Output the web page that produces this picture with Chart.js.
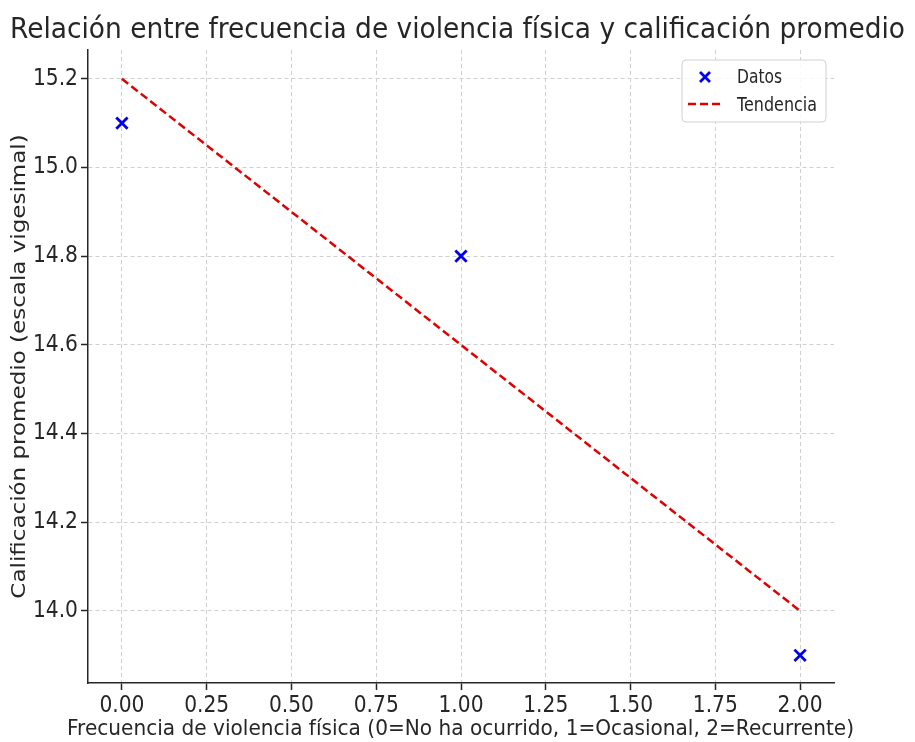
<!DOCTYPE html>
<html>
<head>
<meta charset="utf-8">
<script src="https://cdn.jsdelivr.net/npm/chart.js@4"></script>
<style>
  html, body { margin: 0; padding: 0; background: #fff; }
  #wrap { width: 915px; height: 742px; }
</style>
</head>
<body>
<div id="wrap"><canvas id="chart" width="915" height="742"></canvas></div>
<script>
// datos
const freqX = [0, 1, 2];
const notas = [15.1, 14.8, 13.9];
const trendX = [0, 2];
const trendY = [15.2, 14.0];
const xTicks = [0, 0.25, 0.5, 0.75, 1.0, 1.25, 1.5, 1.75, 2.0];
const yTicks = [14.0, 14.2, 14.4, 14.6, 14.8, 15.0, 15.2];

const titulo = "Relación entre frecuencia de violencia física y calificación promedio";
const tituloX = "Frecuencia de violencia física (0=No ha ocurrido, 1=Ocasional, 2=Recurrente)";
const tituloY = "Calificación promedio (escala vigesimal)";
const textColor = "#262626";
const gridColor = "#cfcfcf";

// textos (titulo y ejes)
const textos = {
  id: "textos",
  afterDraw(chart) {
    const ctx = chart.ctx;
    const area = chart.chartArea;
    ctx.save();
    ctx.fillStyle = textColor;
    ctx.textAlign = "center";
    ctx.textBaseline = "alphabetic";
    ctx.font = '28px "DejaVu Sans"';
    ctx.fillText(titulo, 457.5, 38, 895);
    ctx.font = '20.5px "DejaVu Sans"';
    ctx.fillText(tituloX, (area.left + area.right) / 2 - 0.5, 735, 787);

    ctx.translate(20, (area.top + area.bottom) / 2);
    ctx.rotate(-Math.PI / 2);
    ctx.scale(1, 0.88);
    ctx.textBaseline = "middle";
    ctx.font = '23px "DejaVu Sans"';
    ctx.fillText(tituloY, 0, 0);
    ctx.restore();
  },
};

// leyenda con recuadro, como en matplotlib
const boxLegend = {
  id: "boxLegend",
  afterDraw(chart) {
    const ctx = chart.ctx;
    const x = 682, y = 60, w = 144, h = 62;
    ctx.save();
    ctx.fillStyle = "rgba(255,255,255,0.85)";
    ctx.strokeStyle = "#d0d0d0";
    ctx.lineWidth = 1;
    ctx.beginPath();
    ctx.roundRect(x, y, w, h, 4);
    ctx.fill();
    ctx.stroke();

    // marcador x
    ctx.strokeStyle = "#0000ee";
    ctx.lineWidth = 2.8;
    const cx = 705, cy = 77, r = 5;
    ctx.beginPath();
    ctx.moveTo(cx - r, cy - r); ctx.lineTo(cx + r, cy + r);
    ctx.moveTo(cx - r, cy + r); ctx.lineTo(cx + r, cy - r);
    ctx.stroke();

    // linea discontinua
    ctx.strokeStyle = "#e00000";
    ctx.lineWidth = 2.5;
    ctx.setLineDash([8, 4]);
    ctx.beginPath();
    ctx.moveTo(688, 104); ctx.lineTo(722, 104);
    ctx.stroke();
    ctx.setLineDash([]);

    ctx.fillStyle = textColor;
    ctx.font = '19px "DejaVu Sans"';
    ctx.textBaseline = "alphabetic";
    ctx.fillText("Datos", 737, 83, 45);
    ctx.fillText("Tendencia", 737, 111, 80);
    ctx.restore();
  },
};

new Chart(document.getElementById("chart"), {
  type: "scatter",
  data: {
    datasets: [
      {
        label: "Datos",
        data: freqX.map((x, i) => ({ x: x, y: notas[i] })),
        pointStyle: "crossRot",
        pointRadius: 8,
        pointHoverRadius: 8,
        borderColor: "#0000ee",
        backgroundColor: "#0000ee",
        pointBorderWidth: 2.8,
      },
      {
        type: "line",
        label: "Tendencia",
        data: trendX.map((x, i) => ({ x: x, y: trendY[i] })),
        borderColor: "#e00000",
        borderWidth: 2.5,
        borderDash: [8, 4],
        pointRadius: 0,
        fill: false,
      },
    ],
  },
  options: {
    responsive: false,
    animation: false,
    layout: { padding: { left: 0, right: 81, top: 50, bottom: 0 } },
    plugins: {
      legend: { display: false },
      tooltip: { enabled: false },
      title: { display: false },
    },
    scales: {
      x: {
        type: "linear",
        min: -0.1,
        max: 2.1,
        afterBuildTicks: (s) => { s.ticks = xTicks.map((v) => ({ value: v })); },
        afterFit: (s) => { s.height = 59; },
        ticks: {
          color: textColor,
          font: { family: "DejaVu Sans Condensed", size: 22.5 },
          padding: 3,
          maxRotation: 0,
          callback: (v) => v.toFixed(2),
        },
        grid: {
          color: gridColor,
          tickColor: textColor,
          tickBorderDash: [],
          tickLength: 7,
          tickWidth: 1.5,
        },
        border: { display: true, color: textColor, width: 1.5, dash: [4, 3] },
      },
      y: {
        type: "linear",
        min: 13.8375,
        max: 15.265,
        afterBuildTicks: (s) => { s.ticks = yTicks.map((v) => ({ value: v })); },
        afterFit: (s) => { s.width = 88; },
        ticks: {
          color: textColor,
          font: { family: "DejaVu Sans Condensed", size: 22.5 },
          padding: 3,
          callback: (v) => v.toFixed(1),
        },
        grid: {
          color: gridColor,
          tickColor: textColor,
          tickBorderDash: [],
          tickLength: 7,
          tickWidth: 1.5,
        },
        border: { display: true, color: textColor, width: 1.5, dash: [4, 3] },
      },
    },
  },
  plugins: [textos, boxLegend],
});
</script>
</body>
</html>
